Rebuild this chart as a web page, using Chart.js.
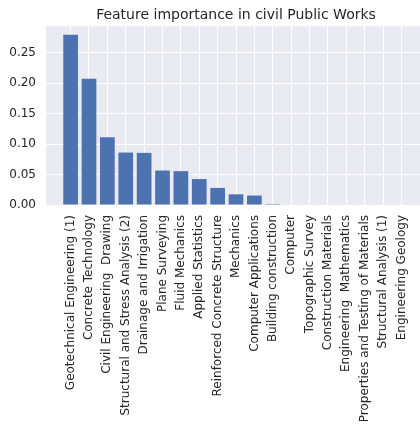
<!DOCTYPE html>
<html>
<head>
<meta charset="utf-8">
<script src="https://cdn.jsdelivr.net/npm/chart.js@4"></script>
<style>
  html, body { margin: 0; padding: 0; background: #fff; overflow: hidden; }
  #wrap { width: 430px; height: 436px; }
</style>
</head>
<body>
<div id="wrap"><canvas id="chart" width="430" height="436"></canvas></div>
<script>
const categories = [
  'Geotechnical Engineering (1)', 'Concrete Technology', 'Civil Engineering  Drawing',
  'Structural and Stress Analysis (2)', 'Drainage and Irrigation', 'Plane Surveying',
  'Fluid Mechanics', 'Applied Statistics', 'Reinforced Concrete Structure', 'Mechanics',
  'Computer Applications', 'Building construction', 'Computer', 'Topographic Survey',
  'Construction Materials', 'Engineering  Mathematics', 'Properties and Testing of Materials',
  'Structural Analysis (1)', 'Engineering Geology'
];
const importance = [0.279, 0.207, 0.111, 0.086, 0.0855, 0.0565, 0.0555, 0.0425, 0.028,
  0.0175, 0.0155, 0.0015, 0, 0, 0, 0, 0, 0, 0];
const yTicks = [0, 0.05, 0.10, 0.15, 0.20, 0.25];

// plot area background like seaborn darkgrid
const bgPlugin = {
  id: 'bg',
  beforeDraw(chart) {
    const { ctx, chartArea: a } = chart;
    ctx.save();
    ctx.fillStyle = '#eaeaf2';
    ctx.fillRect(a.left, a.top, a.right - a.left, a.bottom - a.top);
    ctx.restore();
  }
};

const ctx = document.getElementById('chart').getContext('2d');
new Chart(ctx, {
  type: 'bar',
  data: {
    datasets: [{
      data: importance.map((v, i) => ({ x: i, y: v })),
      backgroundColor: '#4c72b0',
      borderWidth: 0,
      barPercentage: 0.8,
      categoryPercentage: 1.0
    }]
  },
  options: {
    responsive: false,
    animation: false,
    layout: { padding: { right: 4 } },
    plugins: {
      legend: { display: false },
      tooltip: { enabled: false },
      title: {
        display: true,
        fullSize: false,
        text: 'Feature importance in civil Public Works',
        color: '#262626',
        font: { family: 'DejaVu Sans', size: 14, weight: 'normal', lineHeight: 1 },
        padding: { top: 8, bottom: 4 }
      }
    },
    scales: {
      x: {
        type: 'linear',
        min: -1.34,
        max: 19.34,
        offset: false,
        border: { display: false },
        grid: { color: '#ffffff', lineWidth: 1, drawTicks: false, offset: false },
        afterBuildTicks(axis) { axis.ticks = categories.map((_, i) => ({ value: i })); },
        afterFit(axis) { axis.height = 231; },
        ticks: {
          autoSkip: false,
          minRotation: 90,
          maxRotation: 90,
          padding: 10,
          color: '#262626',
          font: { family: 'DejaVu Sans', size: 12 },
          callback: (v) => categories[v]
        }
      },
      y: {
        min: 0,
        max: 0.2935,
        border: { display: false },
        grid: { color: '#ffffff', lineWidth: 1, drawTicks: false },
        afterBuildTicks(axis) { axis.ticks = yTicks.map(v => ({ value: v })); },
        afterFit(axis) { axis.width = 46; },
        ticks: {
          padding: 10,
          color: '#262626',
          font: { family: 'DejaVu Sans', size: 12 },
          callback: (v) => v.toFixed(2)
        }
      }
    }
  },
  plugins: [bgPlugin]
});
</script>
</body>
</html>
